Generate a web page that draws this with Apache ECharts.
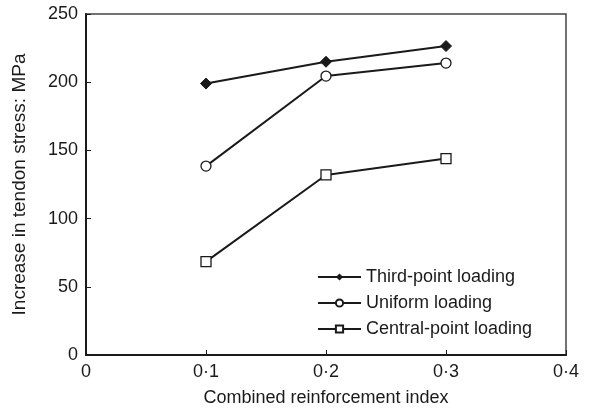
<!DOCTYPE html>
<html>
<head>
<meta charset="utf-8">
<script src="https://cdn.jsdelivr.net/npm/echarts@6/dist/echarts.min.js"></script>
<style>
	html, body { margin: 0; padding: 0; background: #fff; }
	#chart { width: 594px; height: 414px; }
</style>
</head>
<body>
<div id="chart"></div>
<script>
	// reinforcement index values on the x axis
	var xIndex = [0.1, 0.2, 0.3];
	var seriesNames = ['Third-point loading', 'Uniform loading', 'Central-point loading'];
	var thirdPoint = [199, 215, 226.5];
	var uniform = [138.5, 204.5, 214];
	var centralPoint = [68.5, 132, 144];
	var xTicks = [0, 0.1, 0.2, 0.3, 0.4];
	var yTicks = [0, 50, 100, 150, 200, 250];

	function pairs(vals) {
		return xIndex.map(function (x, i) { return [x, vals[i]]; });
	}

	var ink = '#1a1a1a';
	var font = 'Liberation Sans, Arial, sans-serif';

	var myChart = echarts.init(document.getElementById('chart'));
	var option = {
		animation: false,
		backgroundColor: '#fff',
		grid: {
			left: 86, right: 28, top: 14, bottom: 59,
			show: true, borderColor: '#444', borderWidth: 1.5
		},
		legend: {
			orient: 'vertical',
			left: 312,
			top: 263,
			itemWidth: 43,
			itemHeight: 9,
			itemGap: 8,
			data: seriesNames,
			textStyle: { color: ink, fontSize: 18, fontFamily: font }
		},
		xAxis: {
			type: 'value',
			min: xTicks[0],
			max: xTicks[xTicks.length - 1],
			interval: 0.1,
			name: 'Combined reinforcement index',
			nameLocation: 'middle',
			nameGap: 34,
			nameTextStyle: { color: ink, fontSize: 18, fontFamily: font },
			axisLine: { lineStyle: { color: ink, width: 2 } },
			axisTick: { inside: true, length: 5, lineStyle: { color: ink } },
			axisLabel: {
				color: ink, fontSize: 18, fontFamily: font, margin: 8,
				formatter: function (v) { return v === 0 ? '0' : v.toFixed(1).replace('.', '·'); }
			},
			splitLine: { show: false }
		},
		yAxis: {
			type: 'value',
			min: yTicks[0],
			max: yTicks[yTicks.length - 1],
			interval: 50,
			name: 'Increase in tendon stress: MPa',
			nameLocation: 'middle',
			nameGap: 57,
			nameRotate: 90,
			nameTextStyle: { color: ink, fontSize: 19, fontFamily: font },
			axisLine: { show: true, lineStyle: { color: ink, width: 2 } },
			axisTick: { show: true, inside: true, length: 5, lineStyle: { color: ink } },
			axisLabel: { color: ink, fontSize: 18, fontFamily: font, margin: 8 },
			splitLine: { show: false }
		},
		series: [
			{
				name: seriesNames[0], type: 'line', data: pairs(thirdPoint),
				symbol: 'diamond', symbolSize: 11,
				lineStyle: { color: ink, width: 2 },
				itemStyle: { color: ink, borderColor: ink }
			},
			{
				name: seriesNames[1], type: 'line', data: pairs(uniform),
				symbol: 'circle', symbolSize: 10,
				lineStyle: { color: ink, width: 2 },
				itemStyle: { color: '#fff', borderColor: ink, borderWidth: 1.3 }
			},
			{
				name: seriesNames[2], type: 'line', data: pairs(centralPoint),
				symbol: 'rect', symbolSize: 10,
				lineStyle: { color: ink, width: 2 },
				itemStyle: { color: '#fff', borderColor: ink, borderWidth: 1.3 }
			}
		]
	};
	myChart.setOption(option);
</script>
</body>
</html>
